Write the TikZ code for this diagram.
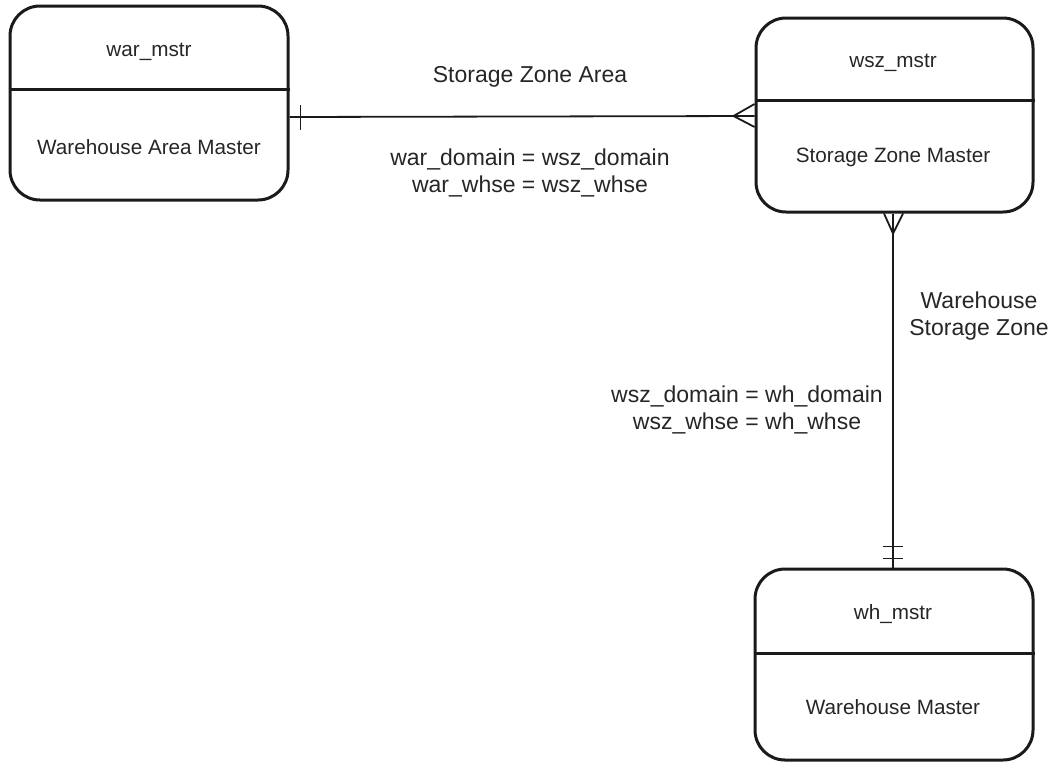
\documentclass[tikz,border=0pt]{standalone}
\usepackage{fontspec}
\setmainfont{Liberation Sans}
\usetikzlibrary{calc}
\definecolor{ink}{HTML}{1A1A1A}
\definecolor{txt}{HTML}{262626}
\tikzset{
  entity/.style={draw=ink, line width=3pt, rounded corners=30pt, inner sep=0pt},
  divider/.style={draw=ink, line width=3pt},
  conn/.style={draw=ink, line width=1.8pt},
  boxtext/.style={text=txt, font=\fontsize{20.7}{25}\selectfont, inner sep=0pt},
  lbl/.style={text=txt, font=\fontsize{23}{27}\selectfont, inner sep=0pt, align=center},
}
\begin{document}
\begin{tikzpicture}[x=1pt,y=-1pt]
\useasboundingbox (0,0) rectangle (1056,763);
% entities
\node[entity, minimum width=278pt, minimum height=194pt] (war) at (149,103) {};
\node[entity, minimum width=277pt, minimum height=194pt] (wsz) at (894.5,115) {};
\node[entity, minimum width=278pt, minimum height=191pt] (wh) at (894,664.5) {};
\draw[divider] (war.west |- 0,89) -- (war.east |- 0,89);
\draw[divider] (wsz.west |- 0,100) -- (wsz.east |- 0,100);
\draw[divider] (wh.west |- 0,653) -- (wh.east |- 0,653);
\node[boxtext] (warh) at (149,52) {war\_mstr};
\node[boxtext] (warb) at (149,147) {Warehouse Area Master};
\node[boxtext] (wszh) at (893,63) {wsz\_mstr};
\node[boxtext] (wszb) at (893,157) {Storage Zone Master};
\node[boxtext] (whh) at (893,614) {wh\_mstr};
\node[boxtext] (whb) at (893,707) {Warehouse Master};
% connector war -> wsz
\coordinate (c1a) at (war.east |- 0,117);
\coordinate (c1b) at (wsz.west |- 0,116);
\draw[conn] (c1a) -- (c1b);
\draw[conn] ($(c1a)+(11,-12)$) -- ($(c1a)+(11,13)$);
\draw[conn] ($(c1b)+(-21,0)$) -- ($(c1b)+(0,-12)$);
\draw[conn] ($(c1b)+(-21,0)$) -- ($(c1b)+(0,11)$);
% connector wsz -> wh
\coordinate (c2a) at (wsz.south -| 893,0);
\coordinate (c2b) at (wh.north -| 893,0);
\draw[conn] (c2a) -- (c2b);
\draw[conn] ($(c2a)+(0,20)$) -- ($(c2a)+(-9,0)$);
\draw[conn] ($(c2a)+(0,20)$) -- ($(c2a)+(10,0)$);
\draw[conn] ($(c2b)+(-10,-21)$) -- ($(c2b)+(10,-21)$);
\draw[conn] ($(c2b)+(-10,-9)$) -- ($(c2b)+(10,-9)$);
% labels
\node[lbl] (l1) at (530,77) {Storage Zone Area};
\node[lbl] (l2) at (530,173) {war\_domain = wsz\_domain\\war\_whse = wsz\_whse};
\node[lbl] (l3) at (979,316) {Warehouse\\Storage Zone};
\node[lbl] (l4) at (747,410) {wsz\_domain = wh\_domain\\wsz\_whse = wh\_whse};
\end{tikzpicture}
\end{document}
